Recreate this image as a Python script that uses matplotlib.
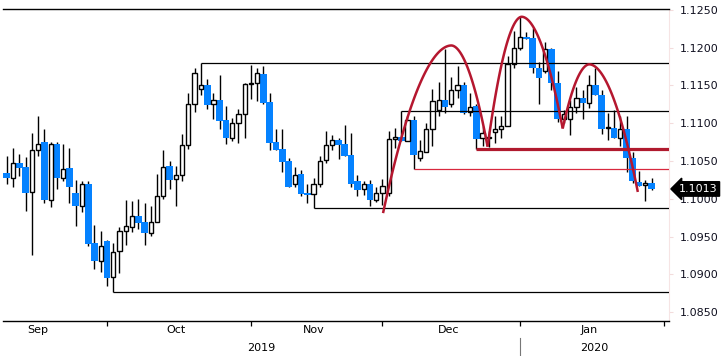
import numpy as np
import pandas as pd
import matplotlib
matplotlib.use("Agg")
import matplotlib.pyplot as plt
import matplotlib.transforms as mtransforms

# EUR/USD daily candles, 9 Sep 2019 - 30 Jan 2020 (weekdays)
start_date = "2019-09-09"
opens = [1.1034, 1.1027, 1.1047, 1.1042, 1.1009, 1.1064, 1.1075, 1.0999, 1.1073, 1.1028,
         1.1041, 1.1008, 1.0991, 1.1020, 1.0941, 1.0918, 1.0944, 1.0896, 1.0931, 1.0957,
         1.0963, 1.0977, 1.0969, 1.0955, 1.0969, 1.1003, 1.1043, 1.1026, 1.1032, 1.1071,
         1.1125, 1.1146, 1.1151, 1.1125, 1.1131, 1.1104, 1.1081, 1.1100, 1.1112, 1.1152,
         1.1153, 1.1165, 1.1128, 1.1075, 1.1066, 1.1050, 1.1019, 1.1033, 1.1008, 1.1006,
         1.1020, 1.1051, 1.1071, 1.1078, 1.1073, 1.1058, 1.1024, 1.1013, 1.1020, 1.0998,
         1.1007, 1.1008, 1.1079, 1.1082, 1.1077, 1.1104, 1.1054, 1.1062, 1.1092, 1.1118,
         1.1131, 1.1126, 1.1144, 1.1150, 1.1115, 1.1123, 1.1080, 1.1080, 1.1088, 1.1092,
         1.1097, 1.1178, 1.1199, 1.1214, 1.1213, 1.1173, 1.1169, 1.1198, 1.1153, 1.1105,
         1.1105, 1.1122, 1.1134, 1.1127, 1.1150, 1.1137, 1.1094, 1.1094, 1.1081, 1.1092,
         1.1054, 1.1022, 1.1018, 1.1021]
highs = [1.1057, 1.1067, 1.1059, 1.1055, 1.1087, 1.1110, 1.1092, 1.1075, 1.1075, 1.1073,
         1.1067, 1.1025, 1.1023, 1.1024, 1.0965, 1.0957, 1.0946, 1.0941, 1.0963, 1.0998,
         1.0997, 1.1000, 1.0994, 1.0990, 1.1033, 1.1064, 1.1050, 1.1043, 1.1086, 1.1140,
         1.1173, 1.1180, 1.1158, 1.1140, 1.1164, 1.1123, 1.1107, 1.1119, 1.1153, 1.1177,
         1.1173, 1.1176, 1.1140, 1.1092, 1.1092, 1.1054, 1.1042, 1.1038, 1.1019, 1.1027,
         1.1057, 1.1090, 1.1084, 1.1080, 1.1098, 1.1087, 1.1031, 1.1024, 1.1025, 1.1016,
         1.1026, 1.1090, 1.1094, 1.1116, 1.1109, 1.1110, 1.1078, 1.1100, 1.1145, 1.1155,
         1.1198, 1.1161, 1.1176, 1.1155, 1.1140, 1.1125, 1.1096, 1.1090, 1.1110, 1.1110,
         1.1189, 1.1222, 1.1241, 1.1221, 1.1226, 1.1181, 1.1207, 1.1199, 1.1169, 1.1118,
         1.1131, 1.1148, 1.1144, 1.1164, 1.1173, 1.1144, 1.1113, 1.1118, 1.1110, 1.1110,
         1.1062, 1.1037, 1.1025, 1.1028]
lows = [1.1020, 1.1016, 1.1030, 1.0984, 1.0926, 1.1057, 1.0994, 1.0989, 1.1013, 1.1023,
        1.0995, 1.0964, 1.0983, 1.0937, 1.0907, 1.0903, 1.0884, 1.0877, 1.0902, 1.0939,
        1.0956, 1.0960, 1.0939, 1.0951, 1.0969, 1.1000, 1.1013, 1.0991, 1.1023, 1.1066,
        1.1115, 1.1138, 1.1119, 1.1106, 1.1092, 1.1073, 1.1076, 1.1074, 1.1081, 1.1132,
        1.1129, 1.1125, 1.1064, 1.1064, 1.1036, 1.1016, 1.1016, 1.1003, 1.0995, 1.0988,
        1.1015, 1.1048, 1.1064, 1.1053, 1.1057, 1.1015, 1.1003, 1.1005, 1.0991, 1.0996,
        1.0992, 1.1003, 1.1067, 1.1077, 1.1077, 1.1039, 1.1050, 1.1062, 1.1070, 1.1110,
        1.1113, 1.1122, 1.1134, 1.1112, 1.1110, 1.1066, 1.1070, 1.1068, 1.1074, 1.1080,
        1.1097, 1.1173, 1.1197, 1.1212, 1.1166, 1.1126, 1.1167, 1.1144, 1.1102, 1.1100,
        1.1085, 1.1114, 1.1105, 1.1120, 1.1137, 1.1086, 1.1078, 1.1081, 1.1070, 1.1036,
        1.1021, 1.1017, 1.0997, 1.1012]
closes = [1.1028, 1.1047, 1.1041, 1.1008, 1.1064, 1.1072, 1.0999, 1.1072, 1.1028, 1.1040,
          1.1015, 1.0991, 1.1019, 1.0940, 1.0918, 1.0938, 1.0895, 1.0930, 1.0957, 1.0964,
          1.0977, 1.0968, 1.0955, 1.0969, 1.1004, 1.1042, 1.1025, 1.1032, 1.1071, 1.1125,
          1.1167, 1.1151, 1.1124, 1.1131, 1.1103, 1.1080, 1.1100, 1.1112, 1.1152, 1.1153,
          1.1166, 1.1127, 1.1074, 1.1065, 1.1049, 1.1016, 1.1032, 1.1006, 1.1005, 1.1020,
          1.1050, 1.1071, 1.1078, 1.1071, 1.1057, 1.1019, 1.1012, 1.1019, 1.0998, 1.1008,
          1.1017, 1.1079, 1.1082, 1.1077, 1.1104, 1.1058, 1.1063, 1.1092, 1.1130, 1.1131,
          1.1121, 1.1144, 1.1150, 1.1114, 1.1122, 1.1079, 1.1087, 1.1082, 1.1092, 1.1097,
          1.1178, 1.1199, 1.1214, 1.1212, 1.1173, 1.1160, 1.1198, 1.1153, 1.1105, 1.1112,
          1.1121, 1.1134, 1.1127, 1.1150, 1.1137, 1.1092, 1.1095, 1.1081, 1.1092, 1.1054,
          1.1024, 1.1017, 1.1021, 1.1013]
last_price = 1.1013

# support / resistance levels: (price, date the line starts, colour, width)
level_prices = [1.1180, 1.1116, 1.0988, 1.0877, 1.1066, 1.1039]
level_starts = ["2019-10-22", "2019-12-05", "2019-11-15", "2019-10-02", "2019-12-23", "2019-12-09"]
level_colors = ["black", "black", "black", "black", "#b01a2e", "#d8283e"]
level_widths = [0.9, 0.9, 0.9, 0.9, 2.3, 0.9]

# head & shoulders arcs: (start, peak, end) as (date, price)
arc_dates = [("2019-12-02", "2019-12-17", "2019-12-25"),
             ("2019-12-25", "2020-01-01", "2020-01-10"),
             ("2020-01-10", "2020-01-16", "2020-01-28")]
arc_prices = [(1.0981, 1.1203, 1.1069),
              (1.1069, 1.1241, 1.1093),
              (1.1093, 1.1178, 1.1009)]
arc_shift = [(0.1, 0.0, -0.2), (-0.2, 0.25, -0.2), (-0.2, 0.05, -0.2)]

months = ["Sep", "Oct", "Nov", "Dec", "Jan"]
years = ["2019", "2020"]
y_ticks = [1.0850, 1.0900, 1.0950, 1.1000, 1.1050, 1.1100, 1.1150, 1.1200, 1.1250]

# trading-day calendar, position 0 = 2 Sep 2019
cal = pd.bdate_range("2019-09-02", "2020-02-07")
pos_of = {d: i for i, d in enumerate(cal)}
dates = pd.bdate_range(start_date, periods=len(closes))
x = np.array([pos_of[d] for d in dates])
o, h, l, c = map(np.array, (opens, highs, lows, closes))
up = c >= o

blue = "#0582ff"
fig = plt.figure(figsize=(7.23, 3.56), dpi=100)
ax = fig.add_axes([3 / 723, 1 - 321 / 356, 666 / 723, 312 / 356])

ax.vlines(x, l, h, color="black", lw=1.0, zorder=2)
ax.bar(x[~up], (o - c)[~up], bottom=c[~up], width=1.08, color=blue, lw=0, zorder=3)
ax.bar(x[up], np.maximum((c - o)[up], 0.00004), bottom=o[up], width=0.68,
       facecolor="white", edgecolor="black", lw=1.0, zorder=3)

xmax = 110.78
for p, s, col, w in zip(level_prices, level_starts, level_colors, level_widths):
    ax.hlines(p, pos_of[pd.Timestamp(s)], xmax, color=col, lw=w, zorder=4)

# arcs drawn as two half-parabolas meeting at the peak
for (d0, d1, d2), (p0, p1, p2), (s0, s1, s2) in zip(arc_dates, arc_prices, arc_shift):
    x0 = pos_of[pd.Timestamp(d0)] + s0
    x1 = pos_of[pd.Timestamp(d1)] + s1
    x2 = pos_of[pd.Timestamp(d2)] + s2
    t = np.linspace(0, 1, 60)
    xl = x1 - (x1 - x0) * t[::-1]
    yl = p1 - (p1 - p0) * t[::-1] ** 1.9
    xr = x1 + (x2 - x1) * t
    yr = p1 - (p1 - p2) * t ** 1.9
    ax.plot(np.r_[xl, xr], np.r_[yl, yr], color="#b5172f", lw=1.8, zorder=5,
            solid_capstyle="butt")

ax.set_xlim(4.39, xmax)
ax.set_ylim(1.08381, 1.12513)

ax.spines["left"].set_visible(False)
ax.spines["right"].set_color("#f6e4e4")
ax.spines["top"].set_linewidth(1.0)
ax.spines["bottom"].set_linewidth(1.0)

# y axis on the right
ax.yaxis.tick_right()
ax.set_yticks(y_ticks)
ax.set_yticklabels([f"{v:.4f}" for v in y_ticks])
ax.tick_params(axis="y", length=3, color="#f3dcdc", pad=5, labelsize=8, labelcolor="#101020")

# month boundaries and centred month names
month_id = cal.year * 12 + cal.month
firsts = [0] + [i for i in range(1, len(cal)) if month_id[i] != month_id[i - 1]]
ax.set_xticks(firsts[1:])
ax.set_xticklabels([])
ax.tick_params(axis="x", which="major", length=3.5, width=0.9, color="black")
centres = [(firsts[k] + firsts[k + 1]) / 2 - 0.5 for k in range(len(months))]
ax.set_xticks(centres, minor=True)
ax.set_xticklabels(months, minor=True)
ax.tick_params(axis="x", which="minor", length=0, pad=3, labelsize=8)

trans = mtransforms.blended_transform_factory(ax.transData, ax.transAxes)
jan = firsts[4]
ax.text((4.39 + jan) / 2, -0.087, years[0], transform=trans, ha="center", va="center", fontsize=8)
ax.text((jan + xmax) / 2, -0.087, years[1], transform=trans, ha="center", va="center", fontsize=8)
ax.plot([jan, jan], [-0.055, -0.115], transform=trans, color="#777777", lw=0.8, clip_on=False)

ax.annotate(f"{last_price:.4f}", xy=(1, last_price), xycoords=("axes fraction", "data"),
            xytext=(7, 0), textcoords="offset points", ha="left", va="center",
            color="white", fontsize=8, zorder=10,
            bbox=dict(boxstyle="larrow,pad=0.2", fc="black", ec="black"))

fig.savefig("out.png", dpi=100)
